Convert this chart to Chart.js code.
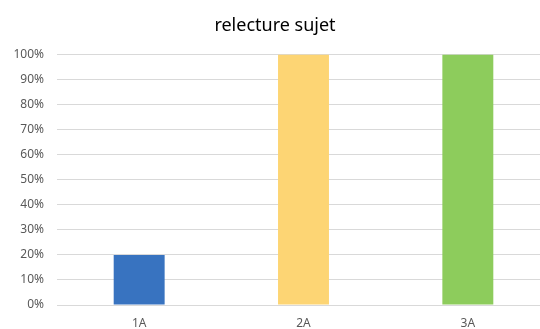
<!DOCTYPE html>
<html>
<head>
<meta charset="utf-8">
<script src="https://cdn.jsdelivr.net/npm/chart.js@4/dist/chart.umd.min.js"></script>
<style>
  html, body { margin: 0; padding: 0; background: #fff; overflow: hidden; }
  #boite { position: relative; width: 568px; height: 329px; }
</style>
</head>
<body>
<div id="boite"><canvas id="graphique"></canvas></div>
<script>
const classes = ['1A', '2A', '3A']
const valeurs = [20, 100, 100]
const couleurs = ['#3873c0', '#fdd574', '#8dcc5c']
const titre = 'relecture sujet'

const ctx = document.getElementById('graphique').getContext('2d')

new Chart(ctx, {
  type: 'bar',
  data: {
    labels: classes,
    datasets: [
      {
        data: valeurs,
        backgroundColor: couleurs,
        borderWidth: 0,
        barPercentage: 0.31,
        categoryPercentage: 1
      }
    ]
  },
  options: {
    responsive: true,
    maintainAspectRatio: false,
    animation: false,
    layout: { padding: { left: 0, right: 18, top: 0, bottom: 0 } },
    scales: {
      y: {
        min: 0,
        max: 100,
        ticks: {
          stepSize: 10,
          padding: 13,
          color: '#595959',
          font: { family: 'Noto Sans', size: 12 },
          callback: v => v + '%'
        },
        grid: { color: '#d9d9d9', drawTicks: false, lineWidth: 1 },
        border: { display: false },
        afterFit: scale => { scale.width = 57 }
      },
      x: {
        ticks: {
          padding: 11,
          color: '#595959',
          font: { family: 'Noto Sans', size: 12 }
        },
        grid: { display: false, drawTicks: false },
        border: { display: false },
        afterFit: scale => { scale.height = 24 }
      }
    },
    plugins: {
      legend: { display: false },
      tooltip: { enabled: false },
      title: {
        display: true,
        text: titre,
        color: '#000',
        font: { family: 'Noto Sans', size: 18, weight: 'normal' },
        padding: { top: 15, bottom: 18 }
      }
    }
  }
})
</script>
</body>
</html>
